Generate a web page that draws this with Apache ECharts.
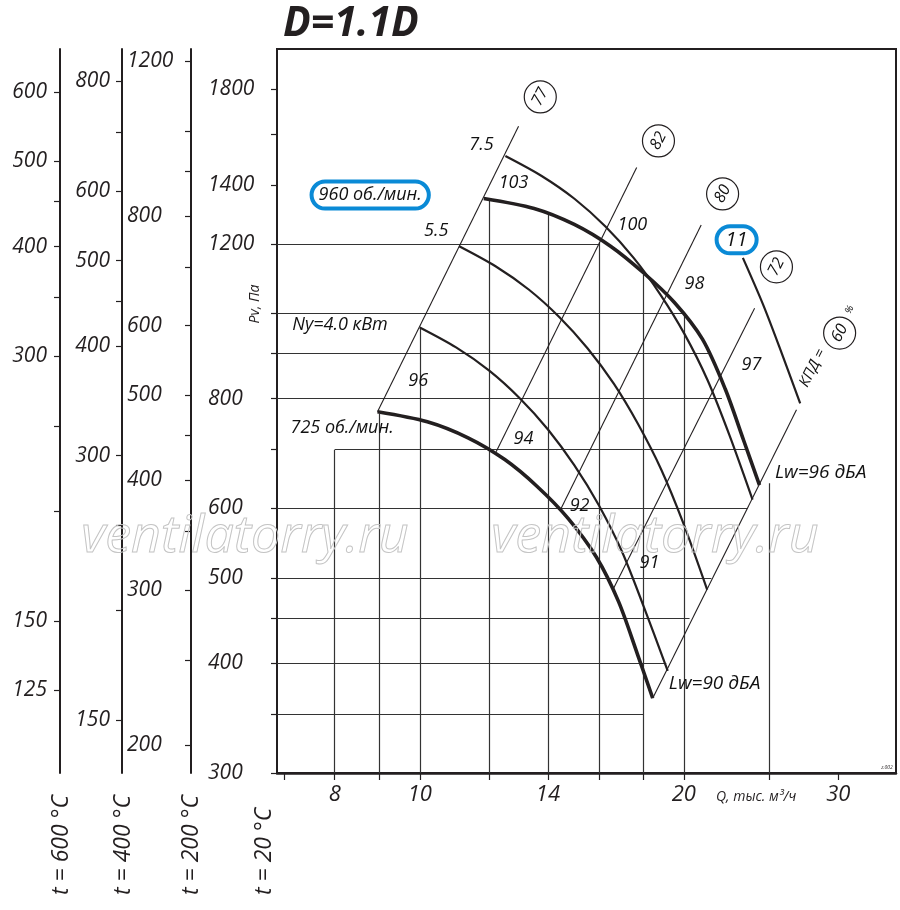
<!DOCTYPE html>
<html>
<head>
<meta charset="utf-8">
<title>D=1.1D</title>
<script src="https://cdn.jsdelivr.net/npm/echarts@6.0.0/dist/echarts.min.js"></script>
<style>
  html, body { margin: 0; padding: 0; background: #fff; }
  #main { width: 900px; height: 910px; }
</style>
</head>
<body>
<div id="main"></div>
<script>
const FONT = '"Open Sans", "DejaVu Sans", sans-serif';
const INK = '#231f20';
const BLUE = '#0a8ad6';

// Q axis, thousand m3/h (log)
const qMin = 6.875, qMax = 34.9;
const qTicks = [7, 8, 9, 10, 12, 14, 16, 18, 20, 25, 30];
const qLabels = [8, 10, 14, 20, 30];

// Pv axis at t = 20 C (log)
const pMin = 300, pMax = 2000;
const pTicks = [300, 350, 400, 450, 500, 600, 700, 800, 900, 1000, 1200, 1400, 1600, 1800];
const pLabels = [300, 400, 500, 600, 800, 1200, 1400, 1800];

// extra pressure scales for hot air
const p200Ticks = [200, 250, 300, 350, 400, 450, 500, 600, 700, 800, 900, 1000, 1200];
const p200Labels = [200, 300, 400, 500, 600, 800, 1200];
const p400Ticks = [150, 200, 250, 300, 400, 450, 500, 600, 700, 800];
const p400Labels = [150, 300, 400, 500, 600, 800];
const p600Ticks = [125, 150, 200, 250, 300, 350, 400, 450, 500, 600];
const p600Labels = [125, 150, 300, 400, 500, 600];
const f200 = 0.6195, f400 = 0.4354, f600 = 0.3356;

// fan curves
const q725 = [8.95, 10.2, 11.35, 12.5, 13.6, 14.75, 15.9, 16.85, 17.7, 18.43];
const p725 = [773, 753, 722, 682, 636, 585, 528, 470, 410, 365];
const q960 = [11.83, 13.5, 15, 16.5, 18, 19.5, 21, 22.3, 23.4, 24.39];
const p960 = [1352, 1317, 1263, 1193, 1112, 1030, 935, 820, 717, 638];
const qNy4 = [10, 11, 12, 13, 14, 15, 16, 17, 18, 19.17];
const pNy4 = [964, 915, 861, 801, 738, 672, 605, 536, 464, 392];
const qNy55 = [11.09, 12.2, 13.31, 14.42, 15.53, 16.64, 17.74, 18.85, 19.96, 21.26];
const pNy55 = [1193, 1132, 1065, 991, 913, 832, 748, 664, 578, 485];
const qNy75 = [12.52, 13.77, 15.02, 16.28, 17.53, 18.78, 20.03, 21.28, 22.54, 23.95];
const pNy75 = [1511, 1434, 1350, 1256, 1157, 1053, 948, 840, 727, 614];
const qNy11 = [23.35, 24.61, 25.71, 27.14];
const pNy11 = [1157, 1025, 915, 790];

// efficiency lines (КПД, %)
const effText = ['77', '82', '80', '72', '60'];
const effQ1 = [8.95, 12.22, 14.49, 16.6, 18.43];
const effP1 = [773, 696, 600, 485, 365];
const effQ2 = [12.96, 17.67, 20.93, 24.08, 26.88];
const effP2 = [1634, 1466, 1261, 1014, 777];
const effMarkQ = [13.72, 18.71, 22.14, 25.5, 30.1];
const effMarkP = [1764, 1572, 1368, 1130, 950];

// sound power / motor labels
const noiseText = ['7.5', '103', '5.5', '96', '94', '92', '91', '100', '98', '97'];
const noiseQ = [11.76, 12.79, 10.44, 9.96, 13.13, 15.21, 18.27, 17.47, 20.56, 23.88];
const noiseP = [1555, 1408, 1242, 838, 720, 604, 520, 1261, 1080, 874];

// partial grid
const hGridP = [1200, 1000, 900, 800, 700, 600, 500, 450, 400, 350];
const hGridFrom = [qMin, qMin, qMin, qMin, 8, qMin, qMin, qMin, qMin, qMin];
const hGridTo = [16, 20, 21.45, 22.1, 23.64, 23.64, 21.5, 20.3, 19.1, 18];
const vGridQ = [8, 9, 10, 12, 14, 16, 18, 20, 25];
const vGridTop = [700, 769, 964, 1352, 1296, 1205, 1107, 1000, 641];

const gridSegs = [];
hGridP.forEach((p, i) => gridSegs.push({ coords: [[hGridFrom[i], p], [hGridTo[i], p]] }));
vGridQ.forEach((q, i) => gridSegs.push({ coords: [[q, vGridTop[i]], [q, pMin]] }));

const effSegs = effText.map((t, i) => ({ coords: [[effQ1[i], effP1[i]], [effQ2[i], effP2[i]]] }));

function pAxis(offset, min, max, ticks, labels, margin, align) {
  return {
    type: 'log', position: 'left', offset: offset, min: min, max: max,
    axisLine: { show: true, onZero: false, lineStyle: { color: INK, width: 2 } },
    axisTick: { show: true, inside: false, length: 6, customValues: ticks, lineStyle: { color: INK, width: 1.2 } },
    axisLabel: {
      show: true, customValues: labels, margin: margin, align: align,
      fontFamily: FONT, fontStyle: 'italic', fontSize: 21, color: INK,
      formatter: v => String(Math.round(v))
    },
    splitLine: { show: false }, minorTick: { show: false }, minorSplitLine: { show: false }
  };
}

function curve(name, qs, ps, width) {
  return {
    name: name, type: 'line', data: qs.map((q, i) => [q, ps[i]]),
    smooth: 0.3, symbol: 'none', silent: true, z: 4,
    lineStyle: { color: INK, width: width }
  };
}

const txt = { fontFamily: FONT, fontStyle: 'italic', color: '#111', opacity: 1, textBorderWidth: 0 };
const labelItems = noiseText.map((t, i) => ({
  value: [noiseQ[i], noiseP[i]], label: Object.assign({ formatter: t, fontSize: 18 }, txt)
}));
labelItems.push({ value: [8.11, 970], label: Object.assign({ formatter: 'Ny=4.0 кВт', fontSize: 18 }, txt) });
labelItems.push({ value: [8.156, 741], label: Object.assign({ formatter: '725 об./мин.', fontSize: 18 }, txt) });
labelItems.push({ value: [25.37, 660], label: Object.assign({ formatter: 'Lw=96 дБА', fontSize: 19, position: 'right', distance: 0 }, txt) });
labelItems.push({ value: [19.2, 379], label: Object.assign({ formatter: 'Lw=90 дБА', fontSize: 19, position: 'right', distance: 0 }, txt) });
labelItems.push({ value: [8.78, 1364], label: Object.assign({
  formatter: '960 об./мин.', fontSize: 18, borderColor: BLUE, borderWidth: 4, borderRadius: 16, padding: [5, 7, 4, 7]
}, txt) });
labelItems.push({ value: [22.97, 1213], label: Object.assign({
  formatter: '11', fontSize: 20, borderColor: BLUE, borderWidth: 4, borderRadius: 17, padding: [4, 9, 3, 9]
}, txt) });
labelItems.push({ value: [28.04, 867], label: Object.assign({ formatter: 'КПД =', fontSize: 15, rotate: 63 }, txt) });
labelItems.push({ value: [30.9, 1010], label: Object.assign({ formatter: '%', fontSize: 10, rotate: 63 }, txt) });

const effMarks = effText.map((t, i) => ({ value: [effMarkQ[i], effMarkP[i]], name: t }));

const chart = echarts.init(document.getElementById('main'));
const option = {
  animation: false,
  backgroundColor: '#fff',
  grid: { left: 277, right: 4, top: 49, bottom: 137, show: true, borderColor: INK, borderWidth: 2, backgroundColor: 'transparent' },
  xAxis: {
    type: 'log', min: qMin, max: qMax,
    axisLine: { show: true, onZero: false, lineStyle: { color: INK, width: 2.5 } },
    axisTick: { show: true, length: 7, customValues: qTicks, lineStyle: { color: INK, width: 1.2 } },
    axisLabel: {
      customValues: qLabels, margin: 11, fontFamily: FONT, fontStyle: 'italic', fontSize: 22, color: INK,
      formatter: v => String(Math.round(v))
    },
    splitLine: { show: false }, minorTick: { show: false }
  },
  yAxis: [
    pAxis(0, pMin, pMax, pTicks, pLabels, 69, 'left'),
    pAxis(86, pMin * f200, pMax * f200, p200Ticks, p200Labels, 64, 'left'),
    pAxis(155, pMin * f400, pMax * f400, p400Ticks, p400Labels, 12, 'right'),
    pAxis(217, pMin * f600, pMax * f600, p600Ticks, p600Labels, 13, 'right')
  ],
  series: [
    {
      name: 'grid', type: 'lines', coordinateSystem: 'cartesian2d', silent: true, z: 1,
      lineStyle: { color: '#333', width: 1.2, opacity: 1 }, data: gridSegs
    },
    {
      name: 'eff', type: 'lines', coordinateSystem: 'cartesian2d', silent: true, z: 2,
      lineStyle: { color: INK, width: 1.1, opacity: 1 }, data: effSegs
    },
    curve('725', q725, p725, 3.6),
    curve('960', q960, p960, 3.6),
    curve('4.0', qNy4, pNy4, 2.2),
    curve('5.5', qNy55, pNy55, 2.2),
    curve('7.5', qNy75, pNy75, 2.2),
    curve('11', qNy11, pNy11, 2.2),
    {
      name: 'effMarks', type: 'scatter', symbol: 'circle', symbolSize: 32, silent: true, z: 6,
      itemStyle: { color: '#fff', borderColor: INK, borderWidth: 1.2, opacity: 1 },
      label: Object.assign({ show: true, position: 'inside', formatter: '{b}', fontSize: 16, rotate: 63 }, txt),
      data: effMarks
    },
    {
      name: 'labels', type: 'scatter', symbolSize: 1, silent: true, z: 7,
      itemStyle: { color: 'rgba(0,0,0,0)', opacity: 1 },
      label: { show: true, position: 'inside' },
      data: labelItems
    }
  ],
  graphic: [
    { type: 'text', x: 283, y: 24, style: { text: 'D=1.1D', font: 'italic bold 41px ' + FONT, fill: INK, align: 'left', verticalAlign: 'middle', textAlign: 'left', textVerticalAlign: 'middle' } },
    { type: 'text', x: 716, y: 797, style: { text: 'Q, тыс. м³/ч', font: 'italic 14px ' + FONT, fill: INK, align: 'left', verticalAlign: 'middle', textAlign: 'left', textVerticalAlign: 'middle' } },
    { type: 'text', x: 255, y: 304, rotation: Math.PI / 2, style: { text: 'Pv, Па', font: 'italic 14px ' + FONT, fill: INK, align: 'center', verticalAlign: 'middle', textAlign: 'center', textVerticalAlign: 'middle' } },
    { type: 'text', x: 61, y: 895, rotation: Math.PI / 2, style: { text: 't = 600 °C', font: 'italic 23px ' + FONT, fill: INK, align: 'left', verticalAlign: 'middle', textAlign: 'left', textVerticalAlign: 'middle' } },
    { type: 'text', x: 123, y: 895, rotation: Math.PI / 2, style: { text: 't = 400 °C', font: 'italic 23px ' + FONT, fill: INK, align: 'left', verticalAlign: 'middle', textAlign: 'left', textVerticalAlign: 'middle' } },
    { type: 'text', x: 191, y: 895, rotation: Math.PI / 2, style: { text: 't = 200 °C', font: 'italic 23px ' + FONT, fill: INK, align: 'left', verticalAlign: 'middle', textAlign: 'left', textVerticalAlign: 'middle' } },
    { type: 'text', x: 264, y: 895, rotation: Math.PI / 2, style: { text: 't = 20 °C', font: 'italic 23px ' + FONT, fill: INK, align: 'left', verticalAlign: 'middle', textAlign: 'left', textVerticalAlign: 'middle' } },
    { type: 'text', x: 245, y: 537, z: 100, style: { text: 'ventilatorry.ru', font: 'italic 52px ' + FONT, fill: 'none', stroke: '#c4c4c4', lineWidth: 1, align: 'center', verticalAlign: 'middle', textAlign: 'center', textVerticalAlign: 'middle' } },
    { type: 'text', x: 655, y: 537, z: 100, style: { text: 'ventilatorry.ru', font: 'italic 52px ' + FONT, fill: 'none', stroke: '#c4c4c4', lineWidth: 1, align: 'center', verticalAlign: 'middle', textAlign: 'center', textVerticalAlign: 'middle' } },
    { type: 'text', x: 887, y: 768, style: { text: 'z.002', font: 'italic 5px ' + FONT, fill: INK, align: 'center', verticalAlign: 'middle', textAlign: 'center', textVerticalAlign: 'middle' } }
  ]
};
chart.setOption(option);
</script>
</body>
</html>
